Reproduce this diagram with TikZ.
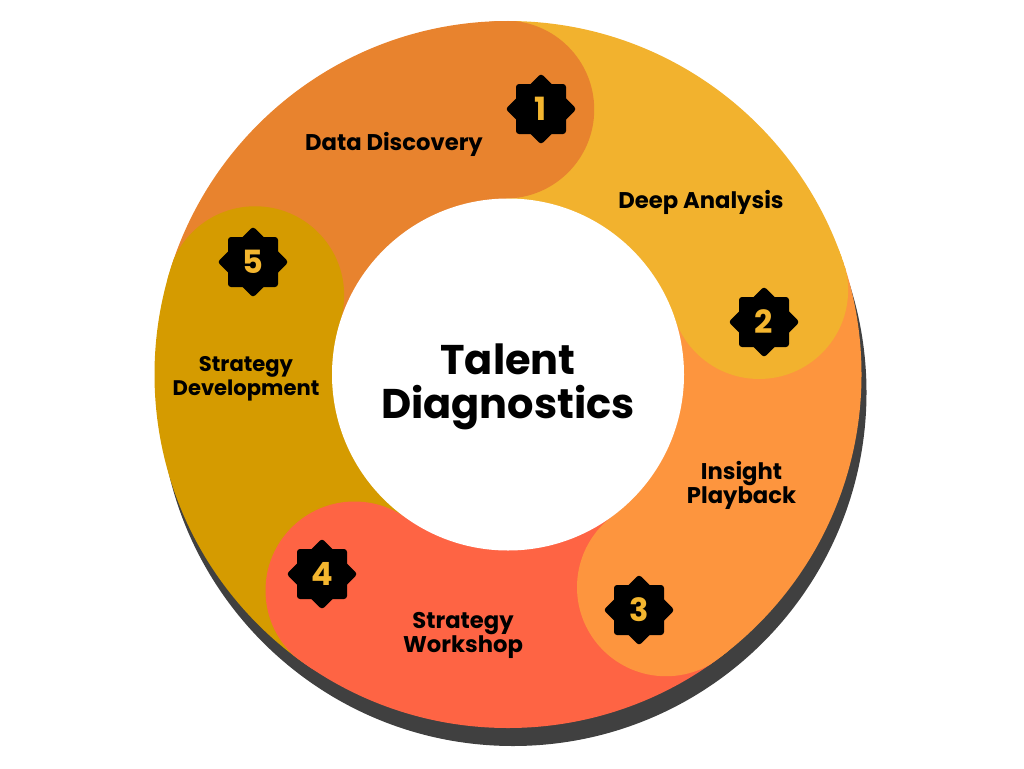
\documentclass[tikz,border=0pt]{standalone}
\usepackage{fontspec}
\setmainfont{Poppins}
\usetikzlibrary{calc}
\definecolor{cDD}{HTML}{E8832E}
\definecolor{cDA}{HTML}{F2B22E}
\definecolor{cIP}{HTML}{FD953E}
\definecolor{cSW}{HTML}{FE6444}
\definecolor{cSD}{HTML}{D59B00}
\definecolor{cShadow}{HTML}{404040}
\definecolor{cNum}{HTML}{F4B62F}
\tikzset{
  label/.style={font=\fontsize{22.7}{24}\selectfont\bfseries, align=center, text=black, inner sep=0pt},
  smalllabel/.style={label, font=\fontsize{21.1}{24}\selectfont\bfseries},
  numtext/.style={font=\fontsize{32}{32}\selectfont\bfseries, text=cNum, inner sep=0pt},
  badge/.pic={
    \fill[black, rounded corners=3pt] (-25,-25) rectangle (25,25);
    \fill[black, rounded corners=3pt] (0,-35.5) -- (35.5,0) -- (0,35.5) -- (-35.5,0) -- cycle;
    \node[numtext] (-n) at (0,0) {#1};
  }
}
\begin{document}
\begin{tikzpicture}[x=1pt,y=-1pt]
\useasboundingbox (0,0) rectangle (1024,768);
\coordinate (O) at (508,374.5);
% shadow
\fill[cShadow] ($(O)+(5,18)$) circle[radius=353.5];
\begin{scope}
\clip (O) circle[radius=353.5];
% sectors (angles in screen orientation, clockwise)
\fill[cDD] (O) -- ++(-162.6:360) arc[start angle=-162.6, end angle=-90.6, radius=360] -- cycle;
\fill[cDA] (O) -- ++(-90.6:360) arc[start angle=-90.6, end angle=-18.6, radius=360] -- cycle;
\fill[cIP] (O) -- ++(-18.6:360) arc[start angle=-18.6, end angle=53.4, radius=360] -- cycle;
\fill[cSW] (O) -- ++(53.4:360) arc[start angle=53.4, end angle=125.4, radius=360] -- cycle;
\fill[cSD] (O) -- ++(125.4:360) arc[start angle=125.4, end angle=197.4, radius=360] -- cycle;
% round caps
\fill[cDD] ($(O)+(-90.6:265)$) circle[radius=89];
\fill[cDA] ($(O)+(-18.6:265)$) circle[radius=89];
\fill[cIP] ($(O)+(53.4:265)$) circle[radius=89];
\fill[cSW] ($(O)+(125.4:265)$) circle[radius=89];
\fill[cSD] ($(O)+(197.4:265)$) circle[radius=89];
\end{scope}
% hub
\node[circle, fill=white, minimum size=352pt, inner sep=0pt] (hub) at (O) {};
\node[font=\fontsize{41.5}{44}\selectfont\bfseries, align=center, inner sep=0pt] (title) at (508,387) {Talent\\Diagnostics};
% labels
\node[label, anchor=base] (l1) at (394,150) {Data Discovery};
\node[label, anchor=base] (l2) at (701,208) {Deep Analysis};
\node[label] (l3) at (741.5,485) {Insight\\Playback};
\node[label] (l4) at (463,635) {Strategy\\Workshop};
\node[smalllabel] (l5) at (246,379) {Strategy\\Development};
% badges
\pic (b1) at (541,109) {badge=1};
\pic (b2) at (764,322) {badge=2};
\pic (b3) at (639,610) {badge=3};
\pic (b4) at (322,574) {badge=4};
\pic (b5) at (253,262) {badge=5};
\end{tikzpicture}
\end{document}
